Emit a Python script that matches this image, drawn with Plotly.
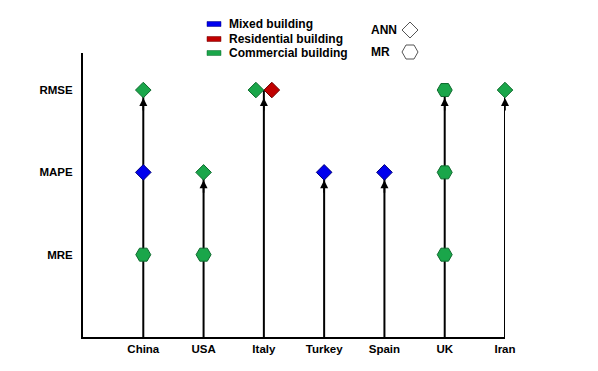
import plotly.graph_objects as go

# ---------------- data ----------------
countries = ["China", "USA", "Italy", "Turkey", "Spain", "UK", "Iran"]
metrics = ["MRE", "MAPE", "RMSE"]

rec_country = ["China", "China", "China", "USA", "USA", "Italy", "Italy",
               "Turkey", "Spain", "UK", "UK", "UK", "Iran"]
rec_metric = ["RMSE", "MAPE", "MRE", "MAPE", "MRE", "RMSE", "RMSE",
              "MAPE", "MAPE", "RMSE", "MAPE", "MRE", "RMSE"]
rec_building = ["Commercial", "Mixed", "Commercial", "Commercial", "Commercial",
                "Commercial", "Residential", "Mixed", "Mixed", "Commercial",
                "Commercial", "Commercial", "Commercial"]
rec_model = ["ANN", "ANN", "MR", "ANN", "MR", "ANN", "ANN",
             "ANN", "ANN", "MR", "MR", "MR", "ANN"]

buildings = ["Mixed", "Residential", "Commercial"]
building_labels = ["Mixed building", "Residential building", "Commercial building"]
models = ["ANN", "MR"]

# ---------------- styles ----------------
FONT = "Liberation Sans, Arial, sans-serif"
fill = {"Mixed": "#0000ee", "Residential": "#c00000", "Commercial": "#1aa64a"}
edge = {"Mixed": "#00007a", "Residential": "#6e0000", "Commercial": "#0f6a2e"}
symbol = {"ANN": "diamond", "MR": "hexagon2"}
msize = {"ANN": 12, "MR": 15}

OFF = 8                      # page body margin of the browser
W, H = 598 - OFF, 371 - OFF  # figure fits the visible window
# plot area (screen px): x 83..505, y 53..337
L = 83 - OFF
T = 53 - OFF
R = W - (505 - OFF)
B = H - (337 - OFF)
XR = [-1, 6]
YR = [0, 3.45]

# positions derived from the categories (dodge points sharing a cell)
xi = [countries.index(c) for c in rec_country]
yi = [metrics.index(m) + 1 for m in rec_metric]
cells = {}
for k, key in enumerate(zip(xi, yi)):
    cells.setdefault(key, []).append(k)
xpos = list(map(float, xi))
for key, idx in cells.items():
    n = len(idx)
    for j, k in enumerate(idx):
        xpos[k] = xi[k] + (j - (n - 1) / 2) * 0.265

fig = go.Figure()

# stems
top = {}
for x, y in zip(xi, yi):
    top[x] = max(top.get(x, 0), y)
sx, sy = [], []
for x in sorted(top):
    sx += [x, x, None]
    sy += [0, top[x], None]
fig.add_trace(go.Scatter(x=sx, y=sy, mode="lines", cliponaxis=False,
                         line=dict(color="black", width=2),
                         hoverinfo="skip", showlegend=False))

# markers
for b in buildings:
    for m in models:
        idx = [k for k in range(len(rec_country))
               if rec_building[k] == b and rec_model[k] == m]
        if not idx:
            continue
        fig.add_trace(go.Scatter(
            x=[xpos[k] for k in idx], y=[yi[k] for k in idx], mode="markers",
            cliponaxis=False,
            marker=dict(symbol=symbol[m], size=msize[m], color=fill[b],
                        line=dict(color=edge[b], width=1)),
            name=f"{b} {m}", showlegend=False))

# arrowheads
for x in sorted(top):
    fig.add_annotation(x=x, y=top[x], ax=0, ay=22, text="", showarrow=True,
                       arrowhead=2, arrowsize=1, arrowwidth=1.6,
                       arrowcolor="black", standoff=8)


def px_x(p):
    """screen pixel -> paper x"""
    return (p - OFF - L) / (W - L - R)


def px_y(p):
    """screen pixel -> paper y"""
    return (H - B - (p - OFF)) / (H - T - B)


# custom legend: building colours
leg_y = [24, 39, 53]
for lab, b, py in zip(building_labels, buildings, leg_y):
    fig.add_shape(type="rect", xref="paper", yref="paper",
                  x0=px_x(207), x1=px_x(221), y0=px_y(py + 2.5), y1=px_y(py - 2.5),
                  fillcolor=fill[b], line=dict(color=edge[b], width=0.5))
    fig.add_annotation(xref="paper", yref="paper", x=px_x(227), y=px_y(py),
                       xanchor="left", yanchor="middle", text=lab, showarrow=False,
                       font=dict(family=FONT, size=12, color="black", weight="bold"))

# custom legend: model symbols
shape_paths = {
    "ANN": "M-8,0 L0,8 L8,0 L0,-8 Z",
    "MR": "M-8,0 L-4,7 L4,7 L8,0 L4,-7 L-4,-7 Z",
}
for m, py in zip(models, [30, 52]):
    fig.add_annotation(xref="paper", yref="paper", x=px_x(369), y=px_y(py),
                       xanchor="left", yanchor="middle", text=m, showarrow=False,
                       font=dict(family=FONT, size=12, color="black", weight="bold"))
    fig.add_shape(type="path", xref="paper", yref="paper",
                  xsizemode="pixel", ysizemode="pixel",
                  xanchor=px_x(410), yanchor=px_y(py), path=shape_paths[m],
                  line=dict(color="#555555", width=1), fillcolor="white")

fig.update_layout(
    width=W, height=H,
    margin=dict(l=L, r=R, t=T, b=B, autoexpand=False),
    paper_bgcolor="white", plot_bgcolor="white",
    showlegend=False,
    font=dict(family=FONT, size=11, color="black"),
    xaxis=dict(range=XR, showgrid=False, zeroline=False, automargin=False,
               showline=True, linecolor="black", linewidth=2,
               tickmode="array", tickvals=list(range(len(countries))),
               ticktext=countries, ticks="", ticklabelstandoff=0,
               tickfont=dict(family=FONT, size=11.5, color="black", weight="bold")),
    yaxis=dict(range=YR, showgrid=False, zeroline=False, automargin=False,
               showline=True, linecolor="black", linewidth=2,
               tickmode="array", tickvals=[1, 2, 3], ticktext=metrics, ticks="",
               ticklabelstandoff=6,
               tickfont=dict(family=FONT, size=11.5, color="black", weight="bold")),
)

fig.write_html("out.html")
